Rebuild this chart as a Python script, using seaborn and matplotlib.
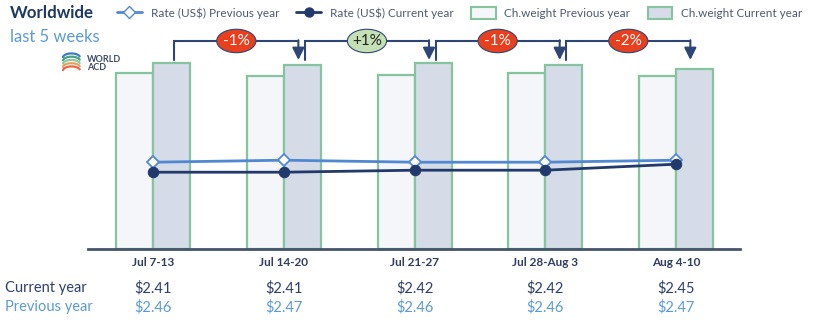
import numpy as np
import pandas as pd
import matplotlib
matplotlib.use("Agg")
import matplotlib.pyplot as plt
from matplotlib.lines import Line2D
from matplotlib.patches import Patch, Ellipse
import seaborn as sns

# ---- data ----
weeks = ["Jul 7-13", "Jul 14-20", "Jul 21-27", "Jul 28-Aug 3", "Aug 4-10"]
cw_prev = [94.6, 93.0, 93.5, 94.6, 93.0]      # chargeable weight, previous year (index)
cw_curr = [100.0, 99.0, 100.0, 99.0, 97.0]    # chargeable weight, current year (index)
rate_prev = [2.46, 2.47, 2.46, 2.46, 2.47]    # average rate US$/kg, previous year
rate_curr = [2.41, 2.41, 2.42, 2.42, 2.45]    # average rate US$/kg, current year
series_names = ["Ch.weight Previous year", "Ch.weight Current year"]

# ---- styling ----
NAVY = "#1f3864"
LIGHT_BLUE = "#5b9bd5"
LINE_PREV = "#5088d2"
LINE_CURR = "#22396b"
BAR_EDGE = "#86c4a0"
FACE_PREV = "#f4f6f9"
FACE_CURR = "#d5dce8"
ARROW = "#2e4676"
TEXT_GREY = "#4d5a6e"

sns.set_theme(style="white")
plt.rcParams["font.family"] = ["Lato", "DejaVu Sans"]

W, H = 819, 326
fig = plt.figure(figsize=(W / 100, H / 100), dpi=100)
ax = fig.add_axes([88 / W, (H - 249) / H, 652 / W, 219 / H])

df = pd.DataFrame({
    "week": weeks * 2,
    "series": [series_names[0]] * len(weeks) + [series_names[1]] * len(weeks),
    "value": cw_prev + cw_curr,
})
sns.barplot(data=df, x="week", y="value", hue="series", order=weeks,
            hue_order=series_names, palette=[FACE_PREV, FACE_CURR],
            width=0.567, gap=0, edgecolor=BAR_EDGE, linewidth=1.6,
            saturation=1, legend=False, ax=ax)
ax.set_ylim(0, 117.7)
ax.set_xlim(-0.5, 4.49)
ax.set_xlabel("")
ax.set_ylabel("")
ax.set_yticks([])
for s in ["top", "left", "right"]:
    ax.spines[s].set_visible(False)
ax.spines["bottom"].set_color("#44546a")
ax.spines["bottom"].set_linewidth(2)
ax.tick_params(axis="x", length=0, pad=6)
for lbl in ax.get_xticklabels():
    lbl.set_fontweight("bold")
    lbl.set_fontsize(8.5)
    lbl.set_color("#2f3d5e")

# ---- rate lines on secondary axis ----
ax2 = ax.twinx()
rates = pd.DataFrame({"x": np.arange(len(weeks)), "prev": rate_prev, "curr": rate_curr})
sns.lineplot(data=rates, x="x", y="prev", ax=ax2, color=LINE_PREV, lw=2,
             marker="D", markersize=6.5, markerfacecolor="white",
             markeredgecolor=LINE_PREV, markeredgewidth=1.3)
sns.lineplot(data=rates, x="x", y="curr", ax=ax2, color=LINE_CURR, lw=2,
             marker="o", markersize=7.5, markerfacecolor=LINE_CURR,
             markeredgecolor=LINE_CURR)
ax2.set_ylim(2.026, 3.121)
ax2.set_xlim(-0.5, 4.49)
ax2.set_axis_off()

# ---- week-over-week change brackets ----
y_top, y_low = 111.8, 101.6
for i in range(len(weeks) - 1):
    x0 = i + 0.16
    x1 = i + 1 + 0.11
    ax.plot([x0, x0, x1], [y_low, y_top, y_top], color=ARROW, lw=1.5,
            clip_on=False, solid_joinstyle="miter", zorder=5)
    ax.annotate("", xy=(x1, y_low), xytext=(x1, y_top + 0.4),
                arrowprops=dict(arrowstyle="-|>,head_length=0.6,head_width=0.3",
                                color=ARROW, lw=1.5, shrinkA=0, shrinkB=0),
                annotation_clip=False, zorder=5)
    pct = round((cw_curr[i + 1] / cw_curr[i] - 1) * 100)
    up = pct > 0
    xm = (x0 + x1) / 2
    ell = Ellipse((xm, y_top), width=0.30, height=12.6,
                  facecolor="#c5e0b4" if up else "#e8401e",
                  edgecolor=ARROW, lw=0.8, clip_on=False, zorder=6)
    ax.add_patch(ell)
    ax.text(xm, y_top, f"{pct:+d}%", ha="center", va="center", fontsize=11,
            color="#222222" if up else "white", zorder=7)

# ---- rate table below the axis ----
xt = ax.get_xaxis_transform()
for i in range(len(weeks)):
    ax.text(i, -0.178, f"${rate_curr[i]:.2f}", transform=xt, ha="center",
            va="center", fontsize=10.5, color="#2e3f6e")
    ax.text(i, -0.265, f"${rate_prev[i]:.2f}", transform=xt, ha="center",
            va="center", fontsize=10.5, color=LIGHT_BLUE)
fig.text(5 / W, 1 - 288 / H, "Current year", ha="left", va="center",
         fontsize=10.5, color="#2e3f6e")
fig.text(5 / W, 1 - 307 / H, "Previous year", ha="left", va="center",
         fontsize=10.5, color=LIGHT_BLUE)

# ---- title ----
fig.text(10 / W, 1 - 13 / H, "Worldwide", ha="left", va="center",
         fontsize=12.2, fontweight="bold", color=NAVY)
fig.text(10 / W, 1 - 37 / H, "last 5 weeks", ha="left", va="center",
         fontsize=12, color=LIGHT_BLUE)

# ---- logo mark ----
lax = fig.add_axes([62 / W, 1 - 74 / H, 19 / W, 22 / H])
lax.set_axis_off()
t = np.linspace(0.1 * np.pi, 0.95 * np.pi, 40)
for k, c in enumerate(["#3b7dc4", "#4aa37c", "#8cc9a5", "#e8a15a", "#e5664c"]):
    lax.plot(np.cos(t), np.sin(t) * 0.45 - k * 0.34, color=c, lw=1.6,
             solid_capstyle="round")
lax.set_xlim(-1.1, 1.1)
lax.set_ylim(-1.7, 0.6)
fig.text(87 / W, 1 - 60 / H, "WORLD", fontsize=6.5, fontweight="bold",
         color="#3b4a6b", va="center")
fig.text(87 / W, 1 - 68 / H, "ACD", fontsize=6.5, fontweight="bold",
         color="#3b4a6b", va="center")

# ---- legend ----
handles = [
    Line2D([], [], color=LINE_PREV, lw=2, marker="D", markersize=6,
           markerfacecolor="white", markeredgecolor=LINE_PREV),
    Line2D([], [], color=LINE_CURR, lw=2, marker="o", markersize=6.5,
           markerfacecolor=LINE_CURR),
    Patch(facecolor=FACE_PREV, edgecolor=BAR_EDGE, lw=1.5),
    Patch(facecolor=FACE_CURR, edgecolor=BAR_EDGE, lw=1.5),
]
labels = ["Rate (US$) Previous year", "Rate (US$) Current year"] + series_names
leg = fig.legend(handles, labels, ncol=4, loc="center left",
                 bbox_to_anchor=(117 / W, 1 - 13 / H), frameon=False,
                 fontsize=8.5, handlelength=2.1, handleheight=1.2,
                 handletextpad=0.75, columnspacing=1.45, borderpad=0,
                 borderaxespad=0)
for txt in leg.get_texts():
    txt.set_color(TEXT_GREY)

fig.savefig("out.png", dpi=100)
